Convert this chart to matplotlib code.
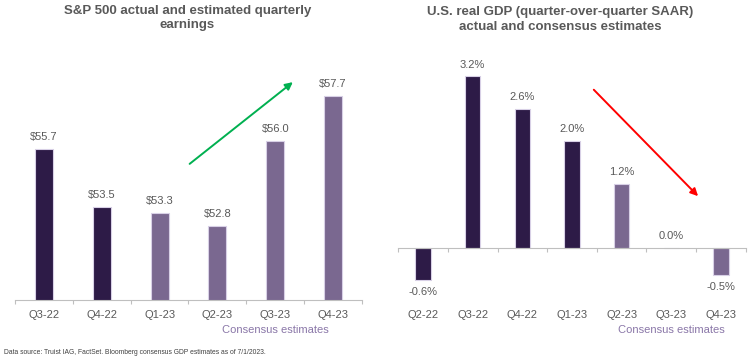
import numpy as np
import matplotlib
matplotlib.use("Agg")
import matplotlib.pyplot as plt

plt.rcParams['font.family'] = ['Liberation Sans', 'DejaVu Sans']

# S&P 500 earnings
eps_quarters = ['Q3-22', 'Q4-22', 'Q1-23', 'Q2-23', 'Q3-23', 'Q4-23']
eps_values = [55.7, 53.5, 53.3, 52.8, 56.0, 57.7]
eps_estimate = [False, False, True, True, True, True]

# real GDP
gdp_quarters = ['Q2-22', 'Q3-22', 'Q4-22', 'Q1-23', 'Q2-23', 'Q3-23', 'Q4-23']
gdp_values = [-0.6, 3.2, 2.6, 2.0, 1.2, 0.0, -0.5]
gdp_estimate = [False, False, False, False, True, True, True]

DARK = '#2d1b47'
LIGHT = '#7a6890'
EDGE = '#d8d0e6'
TXT = '#595959'
AXIS = '#bfbfbf'
EST_TXT = '#8a77a8'

fig = plt.figure(figsize=(7.5, 3.6), dpi=100)

def px(x0, y0, x1, y1):
    # pixel box -> figure fraction
    return [x0 / 750, 1 - y1 / 360, (x1 - x0) / 750, (y1 - y0) / 360]

# ---------- left chart ----------
ax1 = fig.add_axes(px(15, 60, 362, 300))
x = np.arange(len(eps_quarters))
cols = [LIGHT if e else DARK for e in eps_estimate]
ax1.bar(x, eps_values, width=0.31, color=cols, edgecolor=EDGE, linewidth=0.8, bottom=0)
ax1.set_ylim(50, 50 + 240 / 26.5)
ax1.set_xlim(-0.5, len(x) - 0.5)
for xi, v in zip(x, eps_values):
    ax1.annotate(f'${v:.1f}', (xi, v), xytext=(0, 5), textcoords='offset points',
                 ha='center', va='bottom', fontsize=8, color=TXT)
ax1.set_xticks(x)
ax1.set_xticklabels(eps_quarters, fontsize=8, color=TXT)
ax1.set_xticks(np.arange(len(x) + 1) - 0.5, minor=True)
ax1.tick_params(axis='x', which='major', length=0, pad=7)
ax1.tick_params(axis='x', which='minor', length=3, color=AXIS, width=0.8)
ax1.set_yticks([])
for s in ['top', 'right', 'left']:
    ax1.spines[s].set_visible(False)
ax1.spines['bottom'].set_color(AXIS)
ax1.text(4, -0.125, 'Consensus estimates', transform=ax1.get_xaxis_transform(),
         ha='center', va='center', fontsize=8, color=EST_TXT)
ax1.annotate('', xy=(0.807, 0.915), xytext=(0.497, 0.56), xycoords='axes fraction',
             arrowprops=dict(arrowstyle='-|>', color='#00b050', lw=1.4,
                             mutation_scale=11))

fig.text(187.5 / 750, 1 - 18 / 360, 'S&P 500 actual and estimated quarterly\nearnings',
         ha='center', va='center', fontsize=9.5, fontweight='bold', color=TXT,
         linespacing=1.3)

# ---------- right chart ----------
ax2 = fig.add_axes(px(398.3, 60, 745.7, 300))
x2 = np.arange(len(gdp_quarters))
cols2 = [LIGHT if e else DARK for e in gdp_estimate]
ax2.bar(x2, gdp_values, width=0.31, color=cols2, edgecolor=EDGE, linewidth=0.8)
scale = 53.6
ax2.set_ylim(-(300 - 248) / scale, (248 - 60) / scale)
ax2.set_xlim(-0.5, len(x2) - 0.5)
for xi, v in zip(x2, gdp_values):
    if v >= 0:
        ax2.annotate(f'{v:.1f}%', (xi, v), xytext=(0, 5), textcoords='offset points',
                     ha='center', va='bottom', fontsize=8, color=TXT)
    else:
        ax2.annotate(f'{v:.1f}%', (xi, v), xytext=(0, -5), textcoords='offset points',
                     ha='center', va='top', fontsize=8, color=TXT)
ax2.spines['bottom'].set_position(('data', 0))
ax2.spines['bottom'].set_color(AXIS)
for s in ['top', 'right', 'left']:
    ax2.spines[s].set_visible(False)
ax2.set_yticks([])
ax2.set_xticks(x2)
ax2.set_xticklabels(gdp_quarters, fontsize=8, color=TXT)
ax2.set_xticks(np.arange(len(x2) + 1) - 0.5, minor=True)
ax2.tick_params(axis='x', which='major', length=0, pad=45)
ax2.tick_params(axis='x', which='minor', length=3, color=AXIS, width=0.8)
ax2.text(5, -0.125, 'Consensus estimates', transform=ax2.get_xaxis_transform(),
         ha='center', va='center', fontsize=8, color=EST_TXT)
ax2.annotate('', xy=(5.58, 0.93), xytext=(3.4, 2.99),
             arrowprops=dict(arrowstyle='-|>', color='#ff0000', lw=1.4,
                             mutation_scale=11))

fig.text(560 / 750, 1 - 19.5 / 360, 'U.S. real GDP (quarter-over-quarter SAAR)\nactual and consensus estimates',
         ha='center', va='center', fontsize=9.5, fontweight='bold', color=TXT,
         linespacing=1.3)

fig.text(4 / 750, 1 - 353 / 360,
         'Data source: Truist IAG, FactSet. Bloomberg consensus GDP estimates as of 7/1/2023.',
         ha='left', va='center', fontsize=4.9, color='#404040')

fig.savefig('out.png', dpi=100)
